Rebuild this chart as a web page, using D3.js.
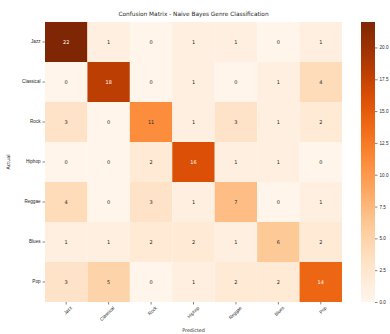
<!DOCTYPE html>
<html>
<head>
<meta charset="utf-8">
<script src="https://cdn.jsdelivr.net/npm/d3@7"></script>
<style>
  html, body { margin: 0; padding: 0; background: #fff; }
  svg { display: block; font-family: "DejaVu Sans", sans-serif; }
</style>
</head>
<body>
<svg id="chart" width="390" height="334"></svg>
<script>
// Genre labels (rows = actual, columns = predicted)
const genres = ["Jazz", "Classical", "Rock", "Hiphop", "Reggae", "Blues", "Pop"];

// Confusion matrix counts, one array per actual genre
const rowJazz      = [22, 1, 0, 1, 1, 0, 1];
const rowClassical = [0, 18, 0, 1, 0, 1, 4];
const rowRock      = [3, 0, 11, 1, 3, 1, 2];
const rowHiphop    = [0, 0, 2, 16, 1, 1, 0];
const rowReggae    = [4, 0, 3, 1, 7, 0, 1];
const rowBlues     = [1, 1, 2, 2, 1, 6, 2];
const rowPop       = [3, 5, 0, 1, 2, 2, 14];
const matrix = [rowJazz, rowClassical, rowRock, rowHiphop, rowReggae, rowBlues, rowPop];

// Colorbar tick values
const colorbarTicks = [0, 2.5, 5, 7.5, 10, 12.5, 15, 17.5, 20];

const chartTitle = "Confusion Matrix - Naive Bayes Genre Classification";
const xTitle = "Predicted";
const yTitle = "Actual";

const svg = d3.select("#chart");
const plot = { left: 45, top: 22, right: 342, bottom: 302 };

const x = d3.scaleBand().domain(genres).range([plot.left, plot.right]);
const y = d3.scaleBand().domain(genres).range([plot.top, plot.bottom]);

const maxVal = d3.max(matrix.flat());
const color = d3.scaleSequential(d3.interpolateOranges).domain([0, maxVal]);

const cells = [];
matrix.forEach((row, i) => row.forEach((v, j) => cells.push({ actual: genres[i], predicted: genres[j], value: v })));

// Heatmap cells
svg.append("g").selectAll("rect")
  .data(cells)
  .enter().append("rect")
  .attr("x", d => x(d.predicted))
  .attr("y", d => y(d.actual))
  .attr("width", x.bandwidth())
  .attr("height", y.bandwidth())
  .attr("fill", d => color(d.value));

// Cell annotations
svg.append("g").selectAll("text")
  .data(cells)
  .enter().append("text")
  .attr("x", d => x(d.predicted) + x.bandwidth() / 2)
  .attr("y", d => y(d.actual) + y.bandwidth() / 2)
  .attr("text-anchor", "middle")
  .attr("dominant-baseline", "central")
  .attr("font-size", 5)
  .attr("fill", d => d.value / maxVal > 0.5 ? "#ffffff" : "#262626")
  .text(d => d.value);

// Axes
const xAxis = svg.append("g")
  .attr("transform", `translate(0,${plot.bottom})`)
  .call(d3.axisBottom(x).tickSize(2.5).tickPadding(2));
xAxis.select(".domain").remove();
xAxis.selectAll("line").attr("stroke", "#333").attr("stroke-width", 0.6);
xAxis.selectAll("text")
  .attr("font-size", 4.6)
  .attr("fill", "#262626")
  .attr("text-anchor", "end")
  .attr("dy", "0.3em")
  .attr("transform", "translate(2,2) rotate(-45)");

const yAxis = svg.append("g")
  .attr("transform", `translate(${plot.left},0)`)
  .call(d3.axisLeft(y).tickSize(2.5).tickPadding(2));
yAxis.select(".domain").remove();
yAxis.selectAll("line").attr("stroke", "#333").attr("stroke-width", 0.6);
yAxis.selectAll("text").attr("font-size", 4.6).attr("fill", "#262626");

// Titles
svg.append("text")
  .attr("x", (plot.left + plot.right) / 2)
  .attr("y", 16)
  .attr("text-anchor", "middle")
  .attr("font-size", 5.8)
  .attr("fill", "#262626")
  .text(chartTitle);

svg.append("text")
  .attr("x", (plot.left + plot.right) / 2)
  .attr("y", 332)
  .attr("text-anchor", "middle")
  .attr("font-size", 4.8)
  .attr("fill", "#262626")
  .text(xTitle);

svg.append("text")
  .attr("transform", `translate(10,${(plot.top + plot.bottom) / 2}) rotate(-90)`)
  .attr("text-anchor", "middle")
  .attr("font-size", 4.8)
  .attr("fill", "#262626")
  .text(yTitle);

// Colorbar
const cb = { x: 361, w: 14, top: plot.top, bottom: plot.bottom };
const defs = svg.append("defs");
const grad = defs.append("linearGradient")
  .attr("id", "cbGrad").attr("x1", 0).attr("y1", 1).attr("x2", 0).attr("y2", 0);
d3.range(0, 1.0001, 0.05).forEach(t => {
  grad.append("stop").attr("offset", t).attr("stop-color", color(t * maxVal));
});
svg.append("rect")
  .attr("x", cb.x).attr("y", cb.top)
  .attr("width", cb.w).attr("height", cb.bottom - cb.top)
  .attr("fill", "url(#cbGrad)");

const cbScale = d3.scaleLinear().domain([0, maxVal]).range([cb.bottom, cb.top]);
const cbAxis = svg.append("g")
  .attr("transform", `translate(${cb.x + cb.w},0)`)
  .call(d3.axisRight(cbScale).tickValues(colorbarTicks).tickFormat(d3.format(".1f")).tickSize(2.5).tickPadding(2));
cbAxis.select(".domain").remove();
cbAxis.selectAll("line").attr("stroke", "#333").attr("stroke-width", 0.6);
cbAxis.selectAll("text").attr("font-size", 4.6).attr("fill", "#262626");
</script>
</body>
</html>
